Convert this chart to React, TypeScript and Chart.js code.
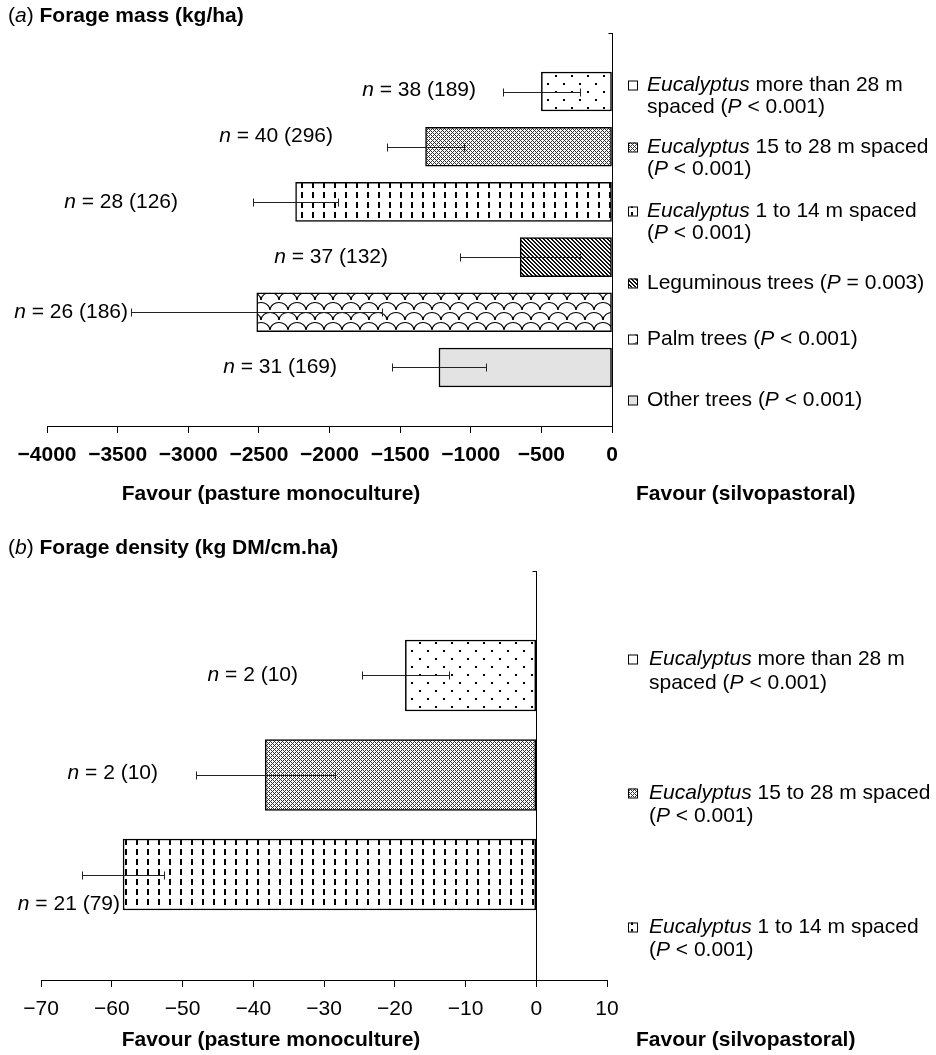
import React, { useEffect, useRef } from 'react';
import { Chart, registerables } from 'chart.js';

Chart.register(...registerables);

const FONT = '"Liberation Sans", Arial, Helvetica, sans-serif';

// ---------- Panel (a): Forage mass (kg/ha) ----------
const labelsA = [
  '*Eucalyptus* more than 28 m|spaced (*P* < 0.001)',
  '*Eucalyptus* 15 to 28 m spaced|(*P* < 0.001)',
  '*Eucalyptus* 1 to 14 m spaced|(*P* < 0.001)',
  'Leguminous trees (*P* = 0.003)',
  'Palm trees (*P* < 0.001)',
  'Other trees (*P* < 0.001)',
];
const valuesA = [-500, -1320, -2240, -650, -2515, -1225];
const errorsA = [275, 275, 300, 425, 890, 330];
const studiesA = [38, 40, 28, 37, 26, 31];
const obsA = [189, 296, 126, 132, 186, 169];
const patternsA = ['dots', 'check', 'dash', 'diag', 'wave', 'gray'];
const ticksA = { min: -4000, max: 0, step: 500 };

// ---------- Panel (b): Forage density (kg DM/cm.ha) ----------
const labelsB = [
  '*Eucalyptus* more than 28 m|spaced (*P* < 0.001)',
  '*Eucalyptus* 15 to 28 m spaced|(*P* < 0.001)',
  '*Eucalyptus* 1 to 14 m spaced|(*P* < 0.001)',
];
const valuesB = [-18.5, -38.3, -58.4];
const errorsB = [6.1, 9.8, 5.8];
const studiesB = [2, 2, 21];
const obsB = [10, 10, 79];
const patternsB = ['dots', 'check', 'dash'];
const ticksB = { min: -70, max: 10, step: 10 };

type Seg = { t: string; i?: boolean; b?: boolean };

function parseMarkup(s: string): Seg[][] {
  return s.split('|').map((line) =>
    line
      .split('*')
      .map((p, k) => ({ t: p, i: k % 2 === 1 }))
      .filter((sg) => sg.t.length > 0)
  );
}

function fontFor(sg: Seg, size: number) {
  return `${sg.i ? 'italic ' : ''}${sg.b ? 'bold ' : ''}${size}px ${FONT}`;
}

function measureSegs(ctx: CanvasRenderingContext2D, segs: Seg[], size: number) {
  let w = 0;
  for (const sg of segs) {
    ctx.font = fontFor(sg, size);
    w += ctx.measureText(sg.t).width;
  }
  return w;
}

function drawSegs(
  ctx: CanvasRenderingContext2D,
  segs: Seg[],
  x: number,
  y: number,
  size: number,
  align: 'left' | 'right' | 'center' = 'left'
) {
  const total = measureSegs(ctx, segs, size);
  let cx = align === 'left' ? x : align === 'right' ? x - total : x - total / 2;
  ctx.textAlign = 'left';
  ctx.textBaseline = 'middle';
  ctx.fillStyle = '#000';
  for (const sg of segs) {
    ctx.font = fontFor(sg, size);
    ctx.fillText(sg.t, cx, y);
    cx += ctx.measureText(sg.t).width;
  }
}

function makePattern(kind: string): CanvasPattern | string {
  if (kind === 'gray') return '#e3e3e3';
  const c = document.createElement('canvas');
  const g = c.getContext('2d') as CanvasRenderingContext2D;
  const setSize = (w: number, h: number) => {
    c.width = w;
    c.height = h;
    g.fillStyle = '#fff';
    g.fillRect(0, 0, w, h);
    g.fillStyle = '#000';
  };
  if (kind === 'dots') {
    setSize(16, 16);
    g.fillRect(3, 3, 2, 2);
    g.fillRect(11, 11, 2, 2);
  } else if (kind === 'check') {
    setSize(4, 4);
    g.fillStyle = '#333';
    for (let x = 0; x < 4; x++)
      for (let y = 0; y < 4; y++)
        if ((x + y) % 4 === 0 || (x - y + 4) % 4 === 0) g.fillRect(x, y, 1, 1);
  } else if (kind === 'dash') {
    setSize(11, 10);
    g.fillRect(4, 2, 2, 6);
  } else if (kind === 'diag') {
    setSize(4, 4);
    g.fillStyle = '#111';
    for (let x = 0; x < 4; x++)
      for (let y = 0; y < 4; y++) if ((x - y + 4) % 4 < 2) g.fillRect(x, y, 1, 1);
  } else if (kind === 'wave') {
    setSize(18, 20);
    g.strokeStyle = '#000';
    g.lineWidth = 1.2;
    const arcRow = (x0: number, yb: number) => {
      g.beginPath();
      g.moveTo(x0, yb);
      g.bezierCurveTo(x0 + 1, yb - 10, x0 + 17, yb - 10, x0 + 18, yb);
      g.stroke();
    };
    arcRow(0, 10);
    arcRow(-9, 20);
    arcRow(9, 20);
    arcRow(-9, 0);
    arcRow(9, 0);
    arcRow(0, 30);
  }
  return g.createPattern(c, 'repeat') as CanvasPattern;
}

const fmtTick = (v: number) => (v < 0 ? '\u2212' + Math.abs(v) : String(v));

type PanelCfg = {
  letter: string;
  title: string;
  labels: string[];
  values: number[];
  errors: number[];
  studies: number[];
  obs: number[];
  patterns: string[];
  ticks: { min: number; max: number; step: number };
  height: number;
  area: { left: number; right: number; top: number; bottom: number };
  yRange: [number, number];
  barThickness: number;
  boldTicks: boolean;
  titleY: number;
  favourY: number;
  favourLeftX: number;
  favourRightX: number;
  legendBoxX: number;
  legendTextX: number;
  legendLines: number[][];
  nLabelRight: number[];
  nLabelDy: number[];
};

const FS = 21;

const cfgA: PanelCfg = {
  letter: 'a',
  title: 'Forage mass (kg/ha)',
  labels: labelsA,
  values: valuesA,
  errors: errorsA,
  studies: studiesA,
  obs: obsA,
  patterns: patternsA,
  ticks: ticksA,
  height: 527,
  area: { left: 47, right: 612, top: 33, bottom: 426 },
  yRange: [-1.06, 6.06],
  barThickness: 39,
  boldTicks: true,
  titleY: 16,
  favourY: 494,
  favourLeftX: 271,
  favourRightX: 636,
  legendBoxX: 628,
  legendTextX: 647,
  legendLines: [[85, 107], [147, 169], [211, 233], [283], [339], [400]],
  nLabelRight: [476, 333, 178, 388, 128, 337],
  nLabelDy: [-1, -11, 0, 0, 0, 0],
};

const cfgB: PanelCfg = {
  letter: 'b',
  title: 'Forage density (kg DM/cm.ha)',
  labels: labelsB,
  values: valuesB,
  errors: errorsB,
  studies: studiesB,
  obs: obsB,
  patterns: patternsB,
  ticks: ticksB,
  height: 528,
  area: { left: 41, right: 607, top: 44, bottom: 453 },
  yRange: [-1.05, 3.06],
  barThickness: 71,
  boldTicks: false,
  titleY: 21,
  favourY: 513,
  favourLeftX: 271,
  favourRightX: 636,
  legendBoxX: 628,
  legendTextX: 649,
  legendLines: [[132, 156], [266, 289], [400, 423]],
  nLabelRight: [298, 158, 120],
  nLabelDy: [0, -2, 30],
};

function Panel({ cfg }: { cfg: PanelCfg }) {
  const ref = useRef<HTMLCanvasElement | null>(null);
  useEffect(() => {
    const canvas = ref.current;
    if (!canvas) return;
    const W = 936;
    const xAxisH = 60;
    const fills = cfg.patterns.map(makePattern);

    const overlay = {
      id: 'overlay',
      afterDatasetsDraw(chart: any) {
        const ctx: CanvasRenderingContext2D = chart.ctx;
        const xs = chart.scales.x;
        const ys = chart.scales.y;
        const ca = chart.chartArea;
        ctx.save();
        // vertical axis at zero
        const x0 = Math.round(xs.getPixelForValue(0)) + 0.5;
        ctx.strokeStyle = '#000';
        ctx.lineWidth = 1;
        ctx.beginPath();
        ctx.moveTo(x0, ca.top);
        ctx.lineTo(x0, ca.bottom);
        ctx.moveTo(x0 - 4, ca.top + 0.5);
        ctx.lineTo(x0, ca.top + 0.5);
        ctx.stroke();
        // error bars
        ctx.strokeStyle = '#222';
        ctx.lineWidth = 1;
        cfg.values.forEach((v, i) => {
          const y = Math.round(ys.getPixelForValue(i)) + 0.5;
          const xa = Math.round(xs.getPixelForValue(v - cfg.errors[i])) + 0.5;
          const xb = Math.round(xs.getPixelForValue(v + cfg.errors[i])) + 0.5;
          ctx.beginPath();
          ctx.moveTo(xa, y);
          ctx.lineTo(xb, y);
          ctx.moveTo(xa, y - 4);
          ctx.lineTo(xa, y + 4);
          ctx.moveTo(xb, y - 4);
          ctx.lineTo(xb, y + 4);
          ctx.stroke();
        });
        // n labels
        cfg.values.forEach((_v, i) => {
          const y = ys.getPixelForValue(i) + cfg.nLabelDy[i];
          drawSegs(
            ctx,
            [{ t: 'n', i: true }, { t: ` = ${cfg.studies[i]} (${cfg.obs[i]})` }],
            cfg.nLabelRight[i],
            y,
            FS,
            'right'
          );
        });
        // legend
        cfg.labels.forEach((lab, i) => {
          const lines = parseMarkup(lab);
          const ly = cfg.legendLines[i];
          const by = ly[0];
          const bx = cfg.legendBoxX;
          ctx.fillStyle = fills[i] as any;
          ctx.fillRect(bx, by - 4.5, 9, 9);
          ctx.strokeStyle = '#000';
          ctx.lineWidth = 1;
          ctx.strokeRect(bx + 0.5, by - 4, 9, 9);
          lines.forEach((segs, k) => {
            drawSegs(ctx, segs, cfg.legendTextX, ly[k] ?? ly[0] + 23 * k, FS, 'left');
          });
        });
        // title
        drawSegs(
          ctx,
          [{ t: '(' }, { t: cfg.letter, i: true }, { t: ') ' }, { t: cfg.title, b: true }],
          8,
          cfg.titleY,
          FS,
          'left'
        );
        // favour labels
        drawSegs(ctx, [{ t: 'Favour (pasture monoculture)', b: true }], cfg.favourLeftX, cfg.favourY, FS, 'center');
        drawSegs(ctx, [{ t: 'Favour (silvopastoral)', b: true }], cfg.favourRightX, cfg.favourY, FS, 'left');
        ctx.restore();
      },
    };

    const chart = new Chart(canvas, {
      type: 'bar',
      data: {
        datasets: [
          {
            data: cfg.values.map((v, i) => ({ x: v, y: i })) as any,
            backgroundColor: fills as any,
            borderColor: '#000',
            borderWidth: 1.5,
            borderSkipped: false,
            barThickness: cfg.barThickness,
          },
        ],
      },
      options: {
        indexAxis: 'y',
        animation: false,
        responsive: false,
        maintainAspectRatio: false,
        events: [],
        layout: {
          padding: {
            left: cfg.area.left,
            right: W - cfg.area.right,
            top: cfg.area.top,
            bottom: cfg.height - cfg.area.bottom - xAxisH,
          },
        },
        plugins: {
          legend: { display: false },
          tooltip: { enabled: false },
          title: { display: false },
        },
        scales: {
          x: {
            type: 'linear',
            min: cfg.ticks.min,
            max: cfg.ticks.max,
            offset: false,
            afterFit: (s: any) => {
              s.height = xAxisH;
            },
            ticks: {
              stepSize: cfg.ticks.step,
              autoSkip: false,
              maxRotation: 0,
              padding: 10,
              color: '#000',
              font: { family: FONT, size: FS, weight: cfg.boldTicks ? 'bold' : 'normal' },
              callback: (v: any) => fmtTick(Number(v)),
            },
            grid: {
              drawOnChartArea: false,
              drawTicks: true,
              tickLength: 7,
              color: '#000',
              lineWidth: 1,
              offset: false,
            },
            border: { display: true, color: '#000', width: 1 },
          },
          y: {
            type: 'linear',
            reverse: true,
            offset: false,
            grace: 0,
            min: cfg.yRange[0],
            max: cfg.yRange[1],
            display: false,
            grid: { offset: false },
          },
        },
      },
      plugins: [overlay],
    });
    return () => chart.destroy();
  }, [cfg]);
  return (
    <canvas
      ref={ref}
      width={936}
      height={cfg.height}
      style={{ display: 'block', width: 936, height: cfg.height }}
    />
  );
}

export default function App() {
  return (
    <div style={{ position: 'absolute', left: 0, top: 0, width: 936, height: 1055, background: '#fff' }}>
      <Panel cfg={cfgA} />
      <Panel cfg={cfgB} />
    </div>
  );
}
